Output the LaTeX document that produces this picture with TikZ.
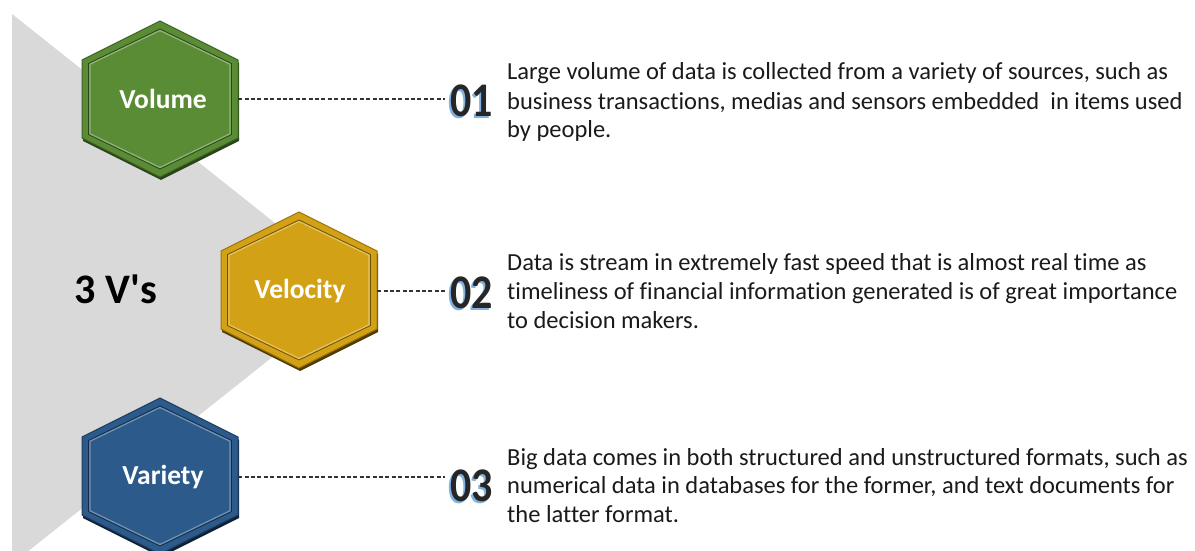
\documentclass[tikz,border=0pt]{standalone}
\usepackage{fontspec}
\usepackage{graphicx}
\setmainfont{Carlito}[Ligatures={TeX,NoCommon}]
\begin{document}
\begin{tikzpicture}[x=1bp,y=-1bp,
  badgelabel/.style={minimum height=156bp,inner sep=0pt,
    text=white,font=\fontsize{27.5bp}{31bp}\selectfont\bfseries},
  numshadow/.style={anchor=west,inner sep=5bp,text=numblue,
    font=\fontsize{42bp}{46bp}\selectfont\bfseries},
  numtext/.style={anchor=west,inner sep=5bp,text=numdark,
    font=\fontsize{42bp}{46bp}\selectfont\bfseries},
  leader/.style={draw=leadgray,line width=1.1bp,dash pattern=on 4bp off 2.4bp},
  desc/.style={anchor=base west,inner sep=0pt,text=textdark,
    font=\fontsize{24.5bp}{28bp}\selectfont}]
\definecolor{panelgray}{HTML}{D9D9D9}
\definecolor{grnbase}{HTML}{5A8B35}
\definecolor{grnedge}{HTML}{3E6424}
\definecolor{grnshade}{HTML}{2A4418}
\definecolor{goldbase}{HTML}{D3A116}
\definecolor{goldedge}{HTML}{9C7407}
\definecolor{goldshade}{HTML}{4F3A00}
\definecolor{bluebase}{HTML}{2C5A8A}
\definecolor{blueedge}{HTML}{1D3E62}
\definecolor{blueshade}{HTML}{0F2138}
\definecolor{numblue}{HTML}{7FB2E0}
\definecolor{numdark}{HTML}{262626}
\definecolor{leadgray}{HTML}{333333}
\definecolor{textdark}{HTML}{1A1A1A}
\newcommand\hexshape[3]{(-#1,-#3) -- (0,-#2) -- (#1,-#3) -- (#1,#3) -- (0,#2) -- (-#1,#3) -- cycle}
\newcommand\hexbadge[5]{%
  \begin{scope}[shift={(#1,#2)}]
    \fill[#5] [shift={(1,3)}] \hexshape{78}{78}{39};
    \filldraw[fill=#3,draw=#4,line width=1bp] \hexshape{78}{78}{39};
    \draw[draw=#4!70!black,line width=0.8bp] \hexshape{71.5}{70}{35.5};
    \draw[draw=white,opacity=0.35,line width=1.2bp] \hexshape{70}{68.5}{34.8};
  \end{scope}}
\newcommand\tallnum[1]{\scalebox{1}[1.15]{#1}}

% page and backdrop
\fill[white] (0,0) rectangle (1195,551);
\useasboundingbox (0,0) rectangle (1195,551);
\begin{scope}
  \clip (0,0) rectangle (1195,551);
  \fill[panelgray] (12,14) -- (358,289) -- (12,564) -- cycle;
\end{scope}

% hexagonal badges
\hexbadge{160}{99}{grnbase}{grnedge}{grnshade}
\hexbadge{299}{290}{goldbase}{goldedge}{goldshade}
\hexbadge{160}{476}{bluebase}{blueedge}{blueshade}

\node[badgelabel,minimum width=150bp] (vol) at (163,99) {Volume};
\node[badgelabel,minimum width=154bp] (vel) at (300,291) {Velocity};
\node[badgelabel,minimum width=150bp] (var) at (163,477) {Variety};

\node[font=\fontsize{42bp}{46bp}\selectfont\bfseries,text=black] (title) at (116,289) {3 V\textquotesingle s};

% step numbers with a soft blue outline
\node[numshadow] (n1s) at (443.5,102.5) {\tallnum{01}};
\node[numtext]   (n1)  at (445,101) {\tallnum{01}};
\node[numshadow] (n2s) at (443.5,294.5) {\tallnum{02}};
\node[numtext]   (n2)  at (445,293) {\tallnum{02}};
\node[numshadow] (n3s) at (443.5,487.5) {\tallnum{03}};
\node[numtext]   (n3)  at (445,486) {\tallnum{03}};

% leader lines
\draw[leader] (vol.east) -- (n1.west |- vol.east);
\draw[leader] (vel.east) -- (n2.west |- vel.east);
\draw[leader] (var.east) -- (n3.west |- var.east);

% descriptions
\node[desc] (d1a) at (507,80) {Large volume of data is collected from a variety of sources, such as};
\node[desc] (d1b) at (507,110) {business transactions, medias and sensors embedded\ \ in items used};
\node[desc] (d1c) at (507,138) {by people.};

\node[desc] (d2a) at (507,271) {Data is stream in extremely fast speed that is almost real time as};
\node[desc] (d2b) at (507,300) {timeliness of financial information generated is of great importance};
\node[desc] (d2c) at (507,329) {to decision makers.};

\node[desc] (d3a) at (507,465) {Big data comes in both structured and unstructured formats, such as};
\node[desc] (d3b) at (507,493) {numerical data in databases for the former, and text documents for};
\node[desc] (d3c) at (507,522) {the latter format.};
\end{tikzpicture}
\end{document}
